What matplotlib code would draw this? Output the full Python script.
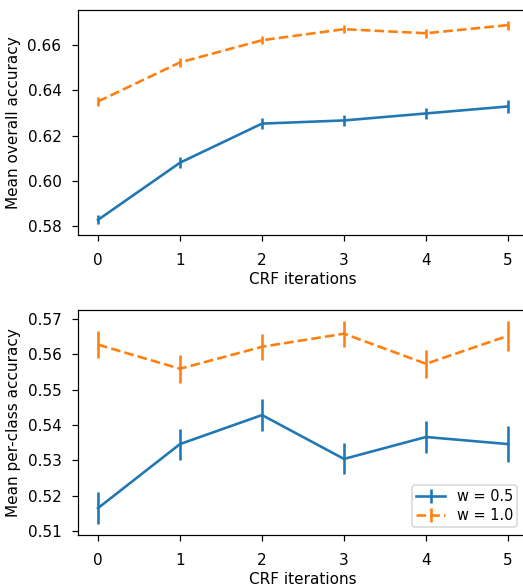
import numpy as np
import matplotlib
matplotlib.use("Agg")
import matplotlib.pyplot as plt

iters = [0, 1, 2, 3, 4, 5]

# mean overall accuracy
overall_w05 = [0.5827, 0.6080, 0.6253, 0.6267, 0.6298, 0.6329]
overall_w05_err = [0.0020, 0.0024, 0.0026, 0.0026, 0.0026, 0.0029]
overall_w10 = [0.6351, 0.6524, 0.6622, 0.6671, 0.6653, 0.6689]
overall_w10_err = [0.0020, 0.0020, 0.0017, 0.0019, 0.0019, 0.0020]

# mean per-class accuracy
perclass_w05 = [0.5165, 0.5346, 0.5428, 0.5304, 0.5366, 0.5346]
perclass_w05_err = [0.0045, 0.0044, 0.0046, 0.0044, 0.0045, 0.0050]
perclass_w10 = [0.5627, 0.5559, 0.5621, 0.5658, 0.5573, 0.5652]
perclass_w10_err = [0.0039, 0.0039, 0.0037, 0.0037, 0.0040, 0.0042]

dpi = 110
fig = plt.figure(figsize=(523 / dpi, 587 / dpi), dpi=dpi)
# the right edge of the axes falls just outside the picture
ax1 = fig.add_axes([0.1482, 0.5997, 0.8623, 0.3833])
ax2 = fig.add_axes([0.1482, 0.0886, 0.8623, 0.3833])

lw = 1.7
ax1.errorbar(iters, overall_w05, yerr=overall_w05_err, color='#1f77b4', lw=lw, label='w = 0.5')
ax1.errorbar(iters, overall_w10, yerr=overall_w10_err, color='#ff7f0e', lw=lw, ls='--', label='w = 1.0')
ax1.set_ylim(0.576, 0.6756)
ax1.set_yticks([0.58, 0.60, 0.62, 0.64, 0.66])
ax1.set_xlabel('CRF iterations', labelpad=3)
ax1.set_ylabel('Mean overall accuracy')

ax2.errorbar(iters, perclass_w05, yerr=perclass_w05_err, color='#1f77b4', lw=lw, label='w = 0.5')
ax2.errorbar(iters, perclass_w10, yerr=perclass_w10_err, color='#ff7f0e', lw=lw, ls='--', label='w = 1.0')
ax2.set_ylim(0.5089, 0.5725)
ax2.set_yticks([0.51, 0.52, 0.53, 0.54, 0.55, 0.56, 0.57])
ax2.set_xlabel('CRF iterations', labelpad=3)
ax2.set_ylabel('Mean per-class accuracy')
ax2.legend(loc='lower right', bbox_to_anchor=(0.985, 0.015), fontsize=9.5,
           labelspacing=0.25, borderpad=0.3, handlelength=2.0, handletextpad=0.8,
           borderaxespad=0.3)

for ax in (ax1, ax2):
    ax.set_xticks(iters)
    ax.set_xlim(-0.25, 5.25)
    ax.tick_params(axis='x', length=4, pad=7.5)
    ax.tick_params(axis='y', length=4, pad=6.5)

fig.savefig('out.png', dpi=dpi)
